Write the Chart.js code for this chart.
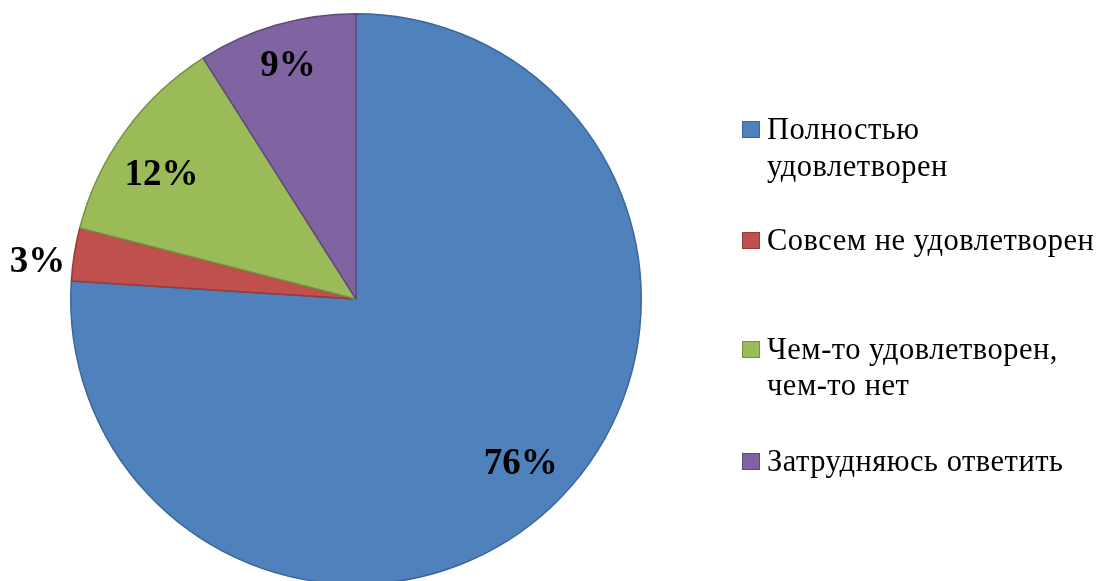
<!DOCTYPE html>
<html><head><meta charset="utf-8">
<script src="https://cdn.jsdelivr.net/npm/chart.js@4.4.1/dist/chart.umd.min.js"></script>
<style>
html,body{margin:0;padding:0;background:#fff;overflow:hidden;width:1100px;height:581px;}
#wrap{position:absolute;left:0;top:0;width:1100px;height:600px;}
#legend{position:absolute;left:0;top:0;width:1100px;height:581px;font-family:"Liberation Serif","Times New Roman",serif;font-size:30.5px;letter-spacing:0.5px;color:#000;}
.item{position:absolute;left:767px;line-height:36.7px;white-space:nowrap;}
.box{position:absolute;left:-25px;top:10px;border:1px solid;box-sizing:border-box;width:18px;height:17px;}
</style></head><body>
<div id="wrap"><canvas id="c"></canvas></div>
<div id="legend"></div>
<script>
const categories = [["Полностью","удовлетворен"],["Совсем не удовлетворен"],["Чем-то удовлетворен,","чем-то нет"],["Затрудняюсь ответить"]];
const values = [76, 3, 12, 9];
const valueLabels = ["76%", "3%", "12%", "9%"];
const fillColors = ["#4F81BD", "#C0504D", "#9BBB59", "#8064A2"];
const edgeColors = ["#3A6699", "#953C3A", "#76913F", "#5F497C"];
const legendTops = [111, 221.5, 330.5, 443];
const labelPlacement = [{r:0.811, da:-2.2}, {r:1.125, da:-1.9}, {r:0.814, da:-2.9}, {r:0.859, da:0.1}];

const labelPlugin = {
  id: 'sliceLabels',
  afterDatasetsDraw(chart) {
    const ctx = chart.ctx;
    const meta = chart.getDatasetMeta(0);
    const fs = 37;
    ctx.save();
    ctx.font = 'bold ' + fs + 'px "Liberation Serif", "Times New Roman", serif';
    ctx.fillStyle = '#000';
    ctx.textAlign = 'center';
    ctx.textBaseline = 'alphabetic';
    meta.data.forEach((arc, i) => {
      const p = arc.getProps(['x','y','startAngle','endAngle','outerRadius'], true);
      const pl = labelPlacement[i];
      const mid = (p.startAngle + p.endAngle) / 2 + pl.da * Math.PI / 180;
      const px = p.x + Math.cos(mid) * p.outerRadius * pl.r;
      const py = p.y + Math.sin(mid) * p.outerRadius * pl.r;
      ctx.fillText(valueLabels[i], px, py + 0.34 * fs);
    });
    ctx.restore();
  }
};

const chart = new Chart(document.getElementById('c'), {
  type: 'pie',
  data: {
    labels: categories,
    datasets: [{
      data: values,
      backgroundColor: fillColors,
      borderColor: edgeColors,
      borderWidth: 1.5
    }]
  },
  options: {
    responsive: true,
    maintainAspectRatio: false,
    animation: false,
    layout: { padding: { left: 70, right: 458, top: 13, bottom: 15 } },
    plugins: { legend: { display: false }, tooltip: { enabled: false } }
  },
  plugins: [labelPlugin]
});

const legend = document.getElementById('legend');
categories.forEach((lines, i) => {
  const item = document.createElement('div');
  item.className = 'item';
  item.style.top = legendTops[i] + 'px';
  const box = document.createElement('span');
  box.className = 'box';
  box.style.background = fillColors[i];
  box.style.borderColor = edgeColors[i];
  item.appendChild(box);
  lines.forEach((t, j) => {
    if (j) item.appendChild(document.createElement('br'));
    item.appendChild(document.createTextNode(t));
  });
  legend.appendChild(item);
});
</script>
</body></html>
